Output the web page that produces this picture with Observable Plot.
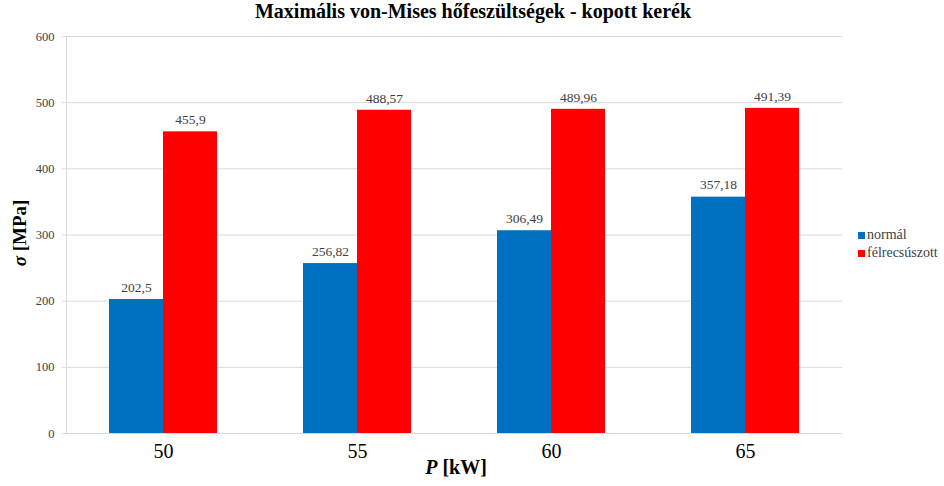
<!DOCTYPE html>
<html>
<head>
<meta charset="utf-8">
<script src="https://cdn.jsdelivr.net/npm/d3@7"></script>
<script src="https://cdn.jsdelivr.net/npm/@observablehq/plot@0.6"></script>
<style>
  html, body { margin: 0; padding: 0; background: #fff; }
  #wrap { position: relative; width: 944px; height: 486px; font-family: "Liberation Serif", "Times New Roman", serif; color: #404040; }
  #title { height: 28px; line-height: 22px; text-align: center; font-weight: bold; font-size: 20px; color: #000; padding-left: 2px; }
  .ov { position: absolute; white-space: nowrap; }
  #ylab { left: 20px; top: 233px; transform: translate(-50%, -50%) rotate(-90deg); font-weight: bold; font-size: 19px; color: #000; }
  #xlab { left: 456px; top: 467px; transform: translate(-50%, -50%); font-weight: bold; font-size: 20px; color: #000; }
  #legend { left: 858px; top: 226px; font-size: 14px; color: #404040; font-family: "Liberation Serif", "Times New Roman", serif; }
  #legend div { display: flex; align-items: center; height: 18px; font-family: "Liberation Serif", "Times New Roman", serif; }
  #legend span.sw { display: inline-block; width: 7px; height: 7px; margin-right: 2px; }
</style>
</head>
<body>
<div id="wrap">
  <div id="title">Maximális von-Mises hőfeszültségek - kopott kerék</div>
  <div id="chart"></div>
  <div class="ov" id="ylab"><i>σ</i> [MPa]</div>
  <div class="ov" id="xlab"><i>P</i> [kW]</div>
  <div class="ov" id="legend"></div>
</div>
<script>
const categories = ["50", "55", "60", "65"];
const series = ["normál", "félrecsúszott"];
const normalValues = [202.5, 256.82, 306.49, 357.18];
const felreValues = [455.9, 488.57, 489.96, 491.39];
const yTicks = [0, 100, 200, 300, 400, 500, 600];
const colors = ["#0070C0", "#FF0000"];

const data = [];
categories.forEach((c, i) => {
  data.push({cat: c, series: series[0], value: normalValues[i]});
  data.push({cat: c, series: series[1], value: felreValues[i]});
});
const fmt = v => String(v).replace(".", ",");
const FONT = "Liberation Serif, Times New Roman, serif";

const chart = Plot.plot({
  width: 944,
  height: 458,
  marginLeft: 66,
  marginRight: 102,
  marginTop: 8,
  marginBottom: 53,
  style: "font-family: 'Liberation Serif', 'Times New Roman', serif; color: #404040; background: #fff;",
  fx: {domain: categories, padding: 0, label: null},
  x: {domain: series, paddingInner: 0, paddingOuter: 0.764, axis: null},
  y: {domain: [0, 600], label: null},
  color: {domain: series, range: colors},
  marks: [
    Plot.gridY(yTicks, {stroke: "#d9d9d9", strokeOpacity: 1}),
    Plot.frame({anchor: "left", stroke: "#d9d9d9", facetAnchor: "left"}),
    Plot.barY(data, {fx: "cat", x: "series", y: "value", fill: "series"}),
    Plot.text(data, {fx: "cat", x: "series", y: "value", text: d => fmt(d.value), dy: -12, fontSize: 13.5, fontFamily: FONT, fill: "#404040"}),
    Plot.axisY(yTicks, {tickSize: 4, tickPadding: 8, stroke: "#d9d9d9", fontSize: 12.5, fontFamily: FONT, fill: "#404040", label: null, tickFormat: d => d}),
    Plot.axisFx({anchor: "bottom", tickSize: 0, tickPadding: 10, fontSize: 20, fontFamily: FONT, fill: "#000", label: null})
  ]
});
document.getElementById("chart").appendChild(chart);

const legend = document.getElementById("legend");
series.forEach((s, i) => {
  const row = document.createElement("div");
  const sw = document.createElement("span");
  sw.className = "sw";
  sw.style.background = colors[i];
  row.appendChild(sw);
  row.appendChild(document.createTextNode(s));
  legend.appendChild(row);
});
</script>
</body>
</html>
